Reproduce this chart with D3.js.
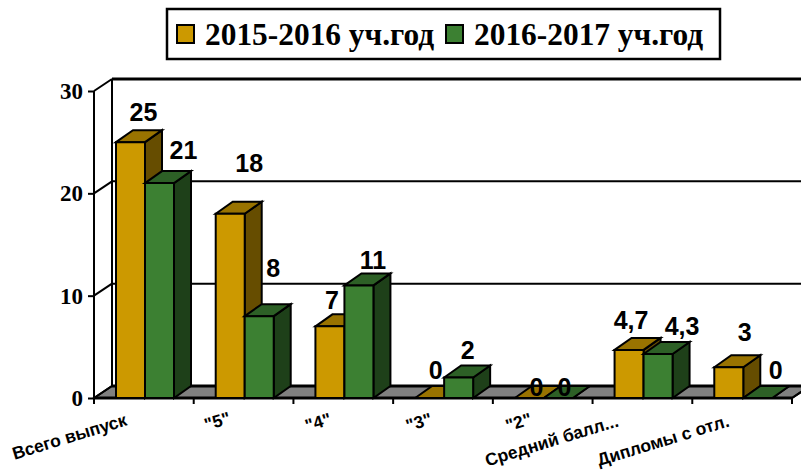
<!DOCTYPE html>
<html>
<head>
<meta charset="utf-8">
<script src="https://cdn.jsdelivr.net/npm/d3@7"></script>
<style>
html, body { margin: 0; padding: 0; background: #fff; overflow: hidden; }
svg { display: block; }
.axis path { display: none; }
.axis line { stroke: #000; stroke-width: 2px; }
</style>
</head>
<body>
<div id="content"></div>
<script>
// ======= data =======
var categories = ['Всего выпуск', '"5"', '"4"', '"3"', '"2"', 'Средний балл...', 'Дипломы с отл.'];
var seriesNames = ['2015-2016 уч.год', '2016-2017 уч.год'];
var values2015 = [25, 18, 7, 0, 0, 4.7, 3];
var values2016 = [21, 8, 11, 2, 0, 4.3, 0];
var yTicks = [0, 10, 20, 30];

// ======= formatting =======
var width = 801, height = 472;
var depth = {x: 18, y: 12};
var barDepth = {x: 17, y: 12};
var colors = [
    {front: '#cc9900', top: '#997300', side: '#664d00'},
    {front: '#3c8032', top: '#2d6026', side: '#1e4019'}
];
// hand placed data labels, offset from bar centre / bar top
var labelDx = [[13, 19, 2, 6, 7, 2, 16], [24, 14, 14, 9, 6, 24, 18]];
var labelDy = [[-30, -51, -26, -28, -11, -30, -35], [-33, -48, -25, -27, -11, -28, -28]];
var catLabelDx = [34, 38, 39, 40, 40, 27, 38];
var catLabelDy = [27, 25, 26, 26, 26, 28, 28];

// ======= scales =======
var xScale = d3.scaleBand().domain(categories).range([94, 792]);
var xInner = d3.scaleBand().domain([0, 1]).range([22, 80]);
var yScale = d3.scaleLinear().domain([0, 30]).range([398, 91]);
var x0 = xScale.range()[0], x1 = xScale.range()[1];
var y0 = yScale(0);

var svg = d3.select('#content').append('svg')
    .attr('width', width)
    .attr('height', height);

// ======= walls =======
function poly(parent, pts, fill, sw) {
    return parent.append('polygon')
        .attr('points', pts.map(function(p) { return p.join(','); }).join(' '))
        .attr('fill', fill)
        .attr('stroke', '#000')
        .attr('stroke-width', sw)
        .attr('stroke-linejoin', 'miter');
}

// floor
poly(svg, [[x0, y0], [x0 + depth.x, y0 - depth.y], [x1 + depth.x, y0 - depth.y], [x1, y0]], '#808080', 2);
svg.append('line')
    .attr('x1', x0 + depth.x).attr('x2', width)
    .attr('y1', y0 - depth.y).attr('y2', y0 - depth.y)
    .attr('stroke', '#000').attr('stroke-width', 3);

// grid lines on back wall + side wall
var grid = svg.append('g');
yTicks.forEach(function(t) {
    var y = yScale(t);
    grid.append('line')
        .attr('x1', x0).attr('y1', y)
        .attr('x2', x0 + depth.x).attr('y2', y - depth.y)
        .attr('stroke', '#000').attr('stroke-width', 2);
    if (t > 0) {
        grid.append('line')
            .attr('x1', x0 + depth.x).attr('x2', width)
            .attr('y1', y - depth.y).attr('y2', y - depth.y)
            .attr('stroke', '#000').attr('stroke-width', t == 30 ? 3 : 2);
    }
});
grid.append('line')
    .attr('x1', x0 + depth.x).attr('x2', x0 + depth.x)
    .attr('y1', yScale(30) - depth.y).attr('y2', y0 - depth.y)
    .attr('stroke', '#000').attr('stroke-width', 2);

// ======= y axis =======
svg.append('line')
    .attr('x1', x0).attr('x2', x0)
    .attr('y1', yScale(30)).attr('y2', y0)
    .attr('stroke', '#000').attr('stroke-width', 2);
svg.append('g')
    .attr('class', 'axis')
    .attr('transform', 'translate(' + x0 + ',0)')
    .call(d3.axisLeft(yScale).tickValues(yTicks).tickSize(6).tickPadding(5))
    .selectAll('text')
        .style('font-family', '"Liberation Serif"')
        .style('font-weight', 'bold')
        .style('font-size', '23px')
        .attr('fill', '#000');

// ======= x axis =======
var xEdges = categories.map(function(c) { return xScale(c); }).concat([x1]);
svg.append('line')
    .attr('x1', x0).attr('x2', x1)
    .attr('y1', y0).attr('y2', y0)
    .attr('stroke', '#000').attr('stroke-width', 3);
svg.append('line')
    .attr('x1', x1).attr('y1', y0)
    .attr('x2', x1 + depth.x).attr('y2', y0 - depth.y)
    .attr('stroke', '#000').attr('stroke-width', 2);
svg.append('g').selectAll('line')
    .data(xEdges)
    .enter()
    .append('line')
        .attr('x1', function(d) { return d; })
        .attr('x2', function(d) { return d; })
        .attr('y1', y0)
        .attr('y2', y0 + 6)
        .attr('stroke', '#000')
        .attr('stroke-width', 2);

svg.append('g').selectAll('text')
    .data(categories)
    .enter()
    .append('text')
        .attr('text-anchor', 'end')
        .attr('transform', function(d, i) {
            return 'translate(' + (xScale(d) + catLabelDx[i]) + ',' + (y0 + catLabelDy[i]) + ') rotate(-17)';
        })
        .style('font-family', '"Liberation Sans"')
        .style('font-weight', 'bold')
        .style('font-size', '17.5px')
        .text(function(d) { return d; });

// ======= bars =======
var seriesValues = [values2015, values2016];
var bars = svg.append('g');
categories.forEach(function(cat, i) {
    seriesValues.forEach(function(vals, s) {
        var left = xScale(cat) + xInner(s);
        var right = left + xInner.bandwidth();
        var top = yScale(vals[i]);
        var c = colors[s];
        // side, top, front
        poly(bars, [[right, top], [right + barDepth.x, top - barDepth.y], [right + barDepth.x, y0 - barDepth.y], [right, y0]], c.side, 2);
        poly(bars, [[left, top], [left + barDepth.x, top - barDepth.y], [right + barDepth.x, top - barDepth.y], [right, top]], c.top, 2);
        if (vals[i] > 0) {
            poly(bars, [[left, top], [right, top], [right, y0], [left, y0]], c.front, 2);
        }
    });
});

// ======= data labels =======
var fmt = function(v) { return String(v).replace('.', ','); };
categories.forEach(function(cat, i) {
    seriesValues.forEach(function(vals, s) {
        svg.append('text')
            .attr('x', xScale(cat) + xInner(s) + xInner.bandwidth() / 2 + labelDx[s][i])
            .attr('y', yScale(vals[i]) + labelDy[s][i])
            .attr('dy', '.35em')
            .attr('text-anchor', 'middle')
            .style('font-family', '"Liberation Sans"')
            .style('font-weight', 'bold')
            .style('font-size', '25px')
            .text(fmt(vals[i]));
    });
});

// ======= legend =======
var legend = svg.append('g');
legend.append('rect')
    .attr('x', 167).attr('y', 9)
    .attr('width', 553).attr('height', 50)
    .attr('fill', '#fff')
    .attr('stroke', '#000')
    .attr('stroke-width', 2.5);
var legendX = [177, 446];
seriesNames.forEach(function(name, s) {
    legend.append('rect')
        .attr('x', legendX[s]).attr('y', 25)
        .attr('width', 17).attr('height', 18)
        .attr('fill', colors[s].front)
        .attr('stroke', '#000')
        .attr('stroke-width', 2);
    legend.append('text')
        .attr('x', legendX[s] + 28)
        .attr('y', 45)
        .style('font-family', '"Liberation Serif"')
        .style('font-weight', 'bold')
        .style('font-size', '31.4px')
        .text(name);
});
</script>
</body>
</html>
